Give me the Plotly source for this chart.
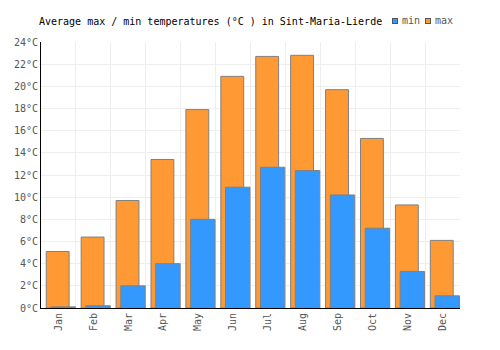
import plotly.graph_objects as go

months = ["Jan", "Feb", "Mar", "Apr", "May", "Jun", "Jul", "Aug", "Sep", "Oct", "Nov", "Dec"]
max_temp = [5.1, 6.4, 9.7, 13.4, 17.9, 20.9, 22.7, 22.8, 19.7, 15.3, 9.3, 6.1]
min_temp = [0.1, 0.2, 2.0, 4.0, 8.0, 10.9, 12.7, 12.4, 10.2, 7.2, 3.3, 1.1]
y_ticks = list(range(0, 25, 2))

MAX_COLOR = "#FF9933"
MIN_COLOR = "#3399FF"
EDGE = "#808080"

xpos = list(range(len(months)))
font = "DejaVu Sans Mono"

fig = go.Figure()
fig.add_trace(go.Bar(
    x=xpos, y=max_temp, name="max",
    marker=dict(color=MAX_COLOR, line=dict(color=EDGE, width=1)),
    width=0.655, offset=-0.35,
))
fig.add_trace(go.Bar(
    x=xpos, y=min_temp, name="min",
    marker=dict(color=MIN_COLOR, line=dict(color=EDGE, width=1)),
    width=0.70, offset=-0.215,
))

# custom compact legend (boxes + labels) placed right of the title
L, T, W, H = 41, 42, 500, 350
plot_w, plot_h = 419, 266
def px(xp):
    return (xp - L) / plot_w
def py(yp):
    return (T + plot_h - yp) / plot_h

legend_items = [("min", MIN_COLOR, 395, 400), ("max", MAX_COLOR, 428, 433)]
annotations = []
for label, color, box_x, text_x in legend_items:
    annotations.append(dict(
        x=px(box_x), y=py(21), xref="paper", yref="paper",
        text="", showarrow=False, width=4, height=4,
        bgcolor=color, bordercolor="#555555", borderwidth=1, borderpad=0,
        xanchor="center", yanchor="middle",
    ))
    annotations.append(dict(
        x=px(text_x), y=py(21), xref="paper", yref="paper",
        text=label, showarrow=False, xanchor="left", yanchor="middle",
        font=dict(family=font, size=10, color="#555555"),
    ))

fig.update_layout(
    width=W, height=H,
    margin=dict(l=L, r=W - L - plot_w, t=T, b=H - T - plot_h),
    paper_bgcolor="white", plot_bgcolor="white",
    barmode="overlay",
    showlegend=False,
    font=dict(family=font, size=10, color="#555555"),
    title=dict(
        text="Average max / min temperatures (°C ) in Sint-Maria-Lierde",
        font=dict(family=font, size=10, color="#000000"),
        x=0.078, xref="container", xanchor="left",
        y=1 - 21 / 350, yref="container", yanchor="middle",
    ),
    annotations=annotations,
    xaxis=dict(
        range=[-0.5, 11.5],
        tickmode="array", tickvals=xpos, ticktext=months,
        tickangle=-90, showgrid=False,
        showline=True, linecolor="#000000", linewidth=1,
        ticks="", zeroline=False,
        minor=dict(tickmode="linear", tick0=-0.5, dtick=1, showgrid=True,
                   gridcolor="#EEEEEE", gridwidth=1, ticks=""),
        fixedrange=True,
    ),
    yaxis=dict(
        range=[0, 24], tickmode="array", tickvals=y_ticks,
        ticktext=[f"{v}°C" for v in y_ticks],
        showgrid=True, gridcolor="#EEEEEE", gridwidth=1,
        showline=True, linecolor="#000000", linewidth=1,
        zeroline=False, ticks="",
        fixedrange=True,
    ),
)

fig.write_html("out.html")
